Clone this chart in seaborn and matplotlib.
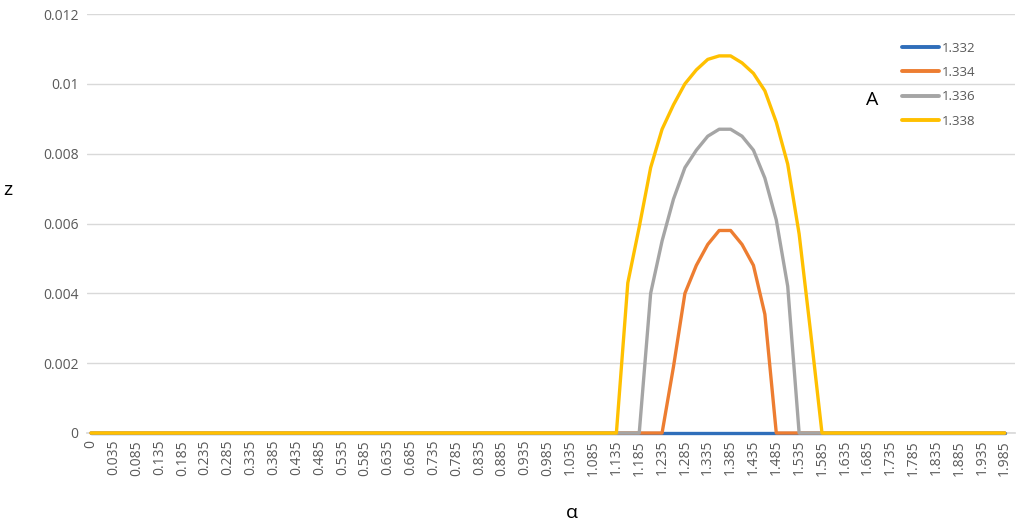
import numpy as np
import pandas as pd
import matplotlib
matplotlib.use("Agg")
import matplotlib.pyplot as plt
import seaborn as sns

# category axis: 0, then 0.01 .. 1.985 in steps of 0.025 (labels on every 2nd)
alpha = [0.0] + [round(0.01 + 0.025 * i, 3) for i in range(80)]
series_names = ["1.332", "1.334", "1.336", "1.338"]

# non-zero part of each curve (start index, values)
z_1332 = (50, [0, 0, 0, 0, 0, 0, 0, 0, 0, 0, 0])
z_1334 = (50, [0, 0.0019, 0.0040, 0.0048, 0.0054, 0.0058, 0.0058, 0.0054,
               0.0048, 0.0034, 0])
z_1336 = (48, [0, 0.0040, 0.0055, 0.0067, 0.0076, 0.0081, 0.0085, 0.0087,
               0.0087, 0.0085, 0.0081, 0.0073, 0.0061, 0.0042, 0])
z_1338 = (46, [0, 0.0043, 0.0059, 0.0076, 0.0087, 0.0094, 0.0100, 0.0104,
               0.0107, 0.0108, 0.0108, 0.0106, 0.0103, 0.0098, 0.0089,
               0.0077, 0.0057, 0.0029, 0])
colors = ["#2F6EBA", "#ED7D31", "#A5A5A5", "#FFC000"]


def full_series(part):
    start, vals = part
    z = np.zeros(len(alpha))
    z[start:start + len(vals)] = vals
    return z


frames = []
for name, part in zip(series_names, [z_1332, z_1334, z_1336, z_1338]):
    frames.append(pd.DataFrame({"idx": np.arange(len(alpha)),
                                "z": full_series(part), "A": name}))
df = pd.concat(frames, ignore_index=True)

sns.set_theme(style="white")
plt.rcParams["font.family"] = ["Open Sans", "DejaVu Sans"]

fig = plt.figure(figsize=(10.24, 5.25), dpi=100)
ax = fig.add_axes([87 / 1024, 1 - 433 / 525, (1015 - 87) / 1024, (433 - 14) / 525])

sns.lineplot(data=df, x="idx", y="z", hue="A", palette=colors,
             hue_order=series_names, linewidth=2.4, ax=ax, legend=False)
for ln in ax.lines:
    ln.set_clip_on(False)
    ln.set_zorder(3)

ax.set_xlim(-0.35, 80.9)
ax.set_ylim(0, 0.012)
ax.set_yticks(np.arange(0, 0.0121, 0.002))
ax.set_yticklabels(["0", "0.002", "0.004", "0.006", "0.008", "0.01", "0.012"])
ticks = list(range(0, len(alpha), 2))
ax.set_xticks(ticks)
ax.set_xticklabels([("%g" % alpha[i]) for i in ticks], rotation=90)
ax.tick_params(axis="both", colors="#595959", labelsize=10, length=0, pad=6)
ax.tick_params(axis="x", pad=5)
ax.yaxis.grid(True, color="#D9D9D9", linewidth=1)
for s in ["top", "right", "left"]:
    ax.spines[s].set_visible(False)
ax.spines["bottom"].set_color("#D9D9D9")
ax.set_xlabel("")
ax.set_ylabel("")

fig.text(8 / 1024, 1 - 190 / 525, "z", fontsize=14, color="black",
         ha="center", va="center")
fig.text(572 / 1024, 1 - 513 / 525, "α", fontsize=14, color="black",
         ha="center", va="center")

handles = [plt.Line2D([], [], color=c, linewidth=2.8) for c in colors]
leg = ax.legend(handles, series_names, loc="upper left",
                bbox_to_anchor=(890 / 1024, 1 - 30 / 525),
                bbox_transform=fig.transFigure, frameon=False,
                fontsize=9.5, handlelength=2.8, handletextpad=0.2,
                labelspacing=0.85)
for t in leg.get_texts():
    t.set_color("#595959")
fig.text(872 / 1024, 1 - 100 / 525, "A", fontsize=14, color="black",
         ha="center", va="center")

fig.savefig("out.png", dpi=100)
